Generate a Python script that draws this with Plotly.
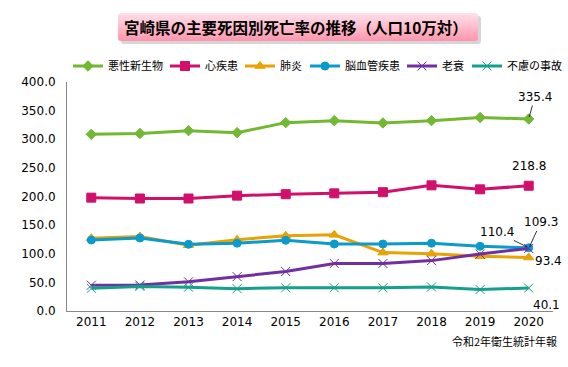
import plotly.graph_objects as go
import base64

years = [2011, 2012, 2013, 2014, 2015, 2016, 2017, 2018, 2019, 2020]
year_labels = [str(y) for y in years]

names = ["悪性新生物", "心疾患", "肺炎", "脳血管疾患", "老衰", "不慮の事故"]
cancer = [308.6, 310.0, 315.0, 311.5, 329.0, 332.5, 328.5, 332.5, 338.0, 335.4]
heart = [198.0, 196.5, 196.5, 201.5, 204.0, 205.5, 207.5, 219.5, 212.5, 218.8]
pneumonia = [127.0, 130.0, 114.8, 124.5, 131.5, 133.0, 102.0, 100.0, 95.5, 93.4]
cerebro = [124.0, 127.5, 116.5, 118.5, 123.5, 117.0, 117.0, 118.5, 113.0, 110.4]
senility = [45.0, 45.4, 51.0, 60.0, 69.0, 83.0, 83.0, 88.0, 99.5, 109.3]
accident = [39.6, 43.0, 41.5, 39.0, 40.5, 40.5, 40.5, 42.0, 37.5, 40.1]
series = [cancer, heart, pneumonia, cerebro, senility, accident]

colors = ["#72B832", "#D0106A", "#E8A202", "#0A9BCB", "#7030A0", "#14A08C"]
symbols = ["diamond", "square", "triangle-up", "circle", "x-thin", "x-thin"]
msizes = [8, 9, 9, 8, 9, 9]
legend_starts = [73, 170, 245, 310, 407, 472]  # px where each legend entry begins

W, H = 568, 367
fig = go.Figure()
for i, (name, vals, c, s, ms) in enumerate(zip(names, series, colors, symbols, msizes)):
    lg = "legend" if i == 0 else f"legend{i + 1}"
    fig.add_trace(go.Scatter(
        x=years, y=vals, name=name, mode="lines+markers", legend=lg,
        line=dict(color=c, width=3),
        marker=dict(symbol=s, size=ms, color=c, line=dict(color=c, width=1)),
    ))

ann_font = dict(family="DejaVu Sans, Verdana, sans-serif", size=12, color="#000000")
labels = [
    (cancer[-1], f"{cancer[-1]:.1f}", 6, -22, True),
    (heart[-1], f"{heart[-1]:.1f}", 0, -20, False),
    (cerebro[-1], f"{cerebro[-1]:.1f}", -32, -16, True),
    (senility[-1], f"{senility[-1]:.1f}", 12, -26, True),
    (pneumonia[-1], f"{pneumonia[-1]:.1f}", 20, 3, False),
    (accident[-1], f"{accident[-1]:.1f}", 18, 17, False),
]
for yv, txt, ax, ay, arrow in labels:
    fig.add_annotation(
        x=years[-1], y=yv, text=txt, showarrow=True, arrowhead=0,
        arrowwidth=0.8, arrowcolor="rgba(0,0,0,%s)" % ("1" if arrow else "0"),
        ax=ax, ay=ay, font=ann_font, standoff=2,
    )

svg = """<svg xmlns='http://www.w3.org/2000/svg' width='364' height='32' viewBox='0 0 364 32'>
<defs><linearGradient id='g' x1='0' y1='0' x2='0' y2='1'>
<stop offset='0' stop-color='#FFE0EA'/><stop offset='0.5' stop-color='#FFBCCC'/><stop offset='1' stop-color='#FF94AC'/>
</linearGradient></defs>
<rect x='3' y='3' width='360' height='28' rx='3' fill='#BBBBBB' opacity='0.6'/>
<rect x='0' y='0' width='360' height='28' rx='3' fill='url(#g)'/>
</svg>"""
src = "data:image/svg+xml;base64," + base64.b64encode(svg.encode()).decode()

L, R, T, B = 67, 15, 82, 56
pw, ph = W - L - R, H - T - B
def px(x):
    return (x - L) / pw
def py(y):
    return (H - B - y) / ph

fig.add_layout_image(dict(source=src, xref="paper", yref="paper",
                          x=px(118), y=py(13), sizex=364 / pw, sizey=32 / ph,
                          sizing="stretch", xanchor="left", yanchor="top", layer="below"))

fig.add_annotation(xref="paper", yref="paper", x=px(296), y=py(27),
                   text="<b>宮崎県の主要死因別死亡率の推移（人口10万対）</b>",
                   showarrow=False, xanchor="center", yanchor="middle",
                   font=dict(family="Noto Sans CJK JP", size=15.5, color="#000000"))

fig.add_annotation(xref="paper", yref="paper", x=px(559), y=py(341),
                   text="令和2年衛生統計年報", showarrow=False,
                   xanchor="right", yanchor="middle",
                   font=dict(family="Noto Sans CJK JP", size=11, color="#000000"))

legends = {}
for i, xs in enumerate(legend_starts):
    key = "legend" if i == 0 else f"legend{i + 1}"
    legends[key] = dict(orientation="h", xref="container", yref="container",
                        x=(xs - 5) / W, xanchor="left", y=1 - 66 / H, yanchor="middle",
                        font=dict(family="Noto Sans CJK JP", size=11, color="#000000"),
                        itemwidth=30, bgcolor="rgba(0,0,0,0)", borderwidth=0)

fig.update_layout(
    width=W, height=H,
    margin=dict(l=L, r=R, t=T, b=B, autoexpand=False),
    paper_bgcolor="white", plot_bgcolor="white",
    showlegend=True,
    font=dict(family="DejaVu Sans, Verdana, sans-serif", size=12, color="#000000"),
    **legends,
)
fig.update_xaxes(range=[2010.5, 2020.5], tickmode="array", tickvals=years, ticktext=year_labels,
                 showline=True, linecolor="#888888", linewidth=1, showgrid=False, ticks="",
                 zeroline=False, tickfont=dict(size=12), automargin=False)
fig.update_yaxes(range=[0, 400], tickmode="array", tickvals=[0, 50, 100, 150, 200, 250, 300, 350, 400],
                 tickformat=".1f", showline=True, linecolor="#888888", linewidth=1,
                 showgrid=False, ticks="", zeroline=False, tickfont=dict(size=12),
                 ticklabelstandoff=8, automargin=False)

fig.write_html("out.html", config={"displayModeBar": False},
               post_script="document.body.style.margin='0';")
